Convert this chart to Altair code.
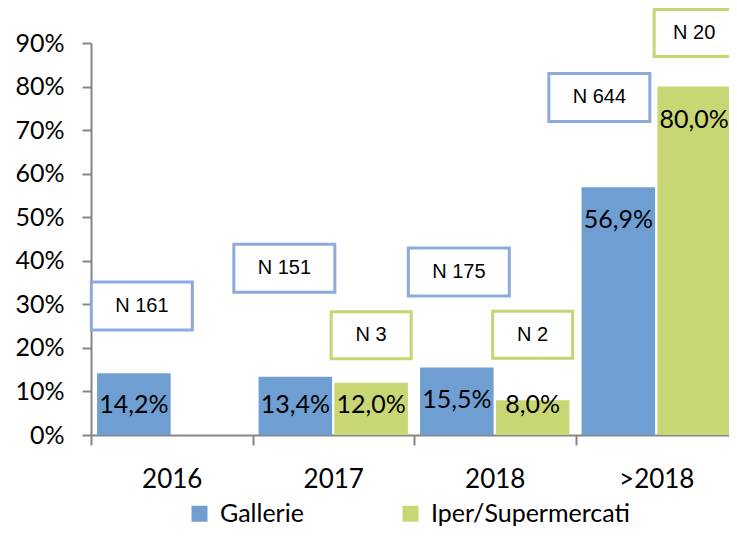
import altair as alt
import pandas as pd

# ---- data ----
categories = ["2016", "2017", "2018", ">2018"]
series_names = ["Gallerie", "Iper/Supermercati"]
gallerie_pct = [14.2, 13.4, 15.5, 56.9]
iper_pct = [None, 12.0, 8.0, 80.0]
gallerie_n = [161, 151, 175, 644]
iper_n = [None, 3, 2, 20]
# vertical level (in % units) of the centre of each "N" callout box
gallerie_box_level = [29.6, 38.3, 37.4, 77.5]
iper_box_level = [None, 22.9, 23.0, 92.3]
y_ticks = [0, 10, 20, 30, 40, 50, 60, 70, 80, 90]

rows = []
for i, c in enumerate(categories):
    for s, vals, ns, lv in [
        (series_names[0], gallerie_pct, gallerie_n, gallerie_box_level),
        (series_names[1], iper_pct, iper_n, iper_box_level),
    ]:
        if vals[i] is None:
            continue
        rows.append({"cat": c, "series": s, "value": vals[i], "n": ns[i], "level": lv[i]})
df = pd.DataFrame(rows)

BLUE = "#6F9FD2"
GREEN = "#C8D774"
BLUE_EDGE = "#8EAADC"
GREEN_EDGE = "#C4D671"
AXIS_GREY = "#868686"

# horizontal nudge (px) of the Gallerie callout boxes, as drawn in the original
NUDGE = "({'2016': 8, '2017': -11, '2018': 2, '>2018': -19})[datum.cat]"
# offset from the category centre to the Gallerie bar centre, from the scales
BAR_CENTRE = "(scale('xOffset', 'Gallerie') + bandwidth('xOffset') / 2 - bandwidth('x') / 2)"
BOX_PATH = "M-1,-0.475H1V0.475H-1Z"

x_enc = alt.X(
    "cat:N",
    sort=categories,
    scale=alt.Scale(paddingInner=0, paddingOuter=0, range=[0, 646]),
    axis=alt.Axis(
        title=None,
        labelAngle=0,
        tickBand="extent",
        tickSize=10,
        tickWidth=2,
        tickColor=AXIS_GREY,
        domainColor=AXIS_GREY,
        domainWidth=2,
        labelFont="Lato",
        labelFontSize=26,
        labelColor="#000000",
        labelPadding=21,
    ),
)
xoff_enc = alt.XOffset(
    "series:N",
    sort=series_names,
    scale=alt.Scale(domain=series_names, paddingInner=0.03, paddingOuter=0.08),
)
y_scale = alt.Scale(domain=[0, 90], nice=False)

base = alt.Chart(df)

bars = base.mark_bar().encode(
    x=x_enc,
    xOffset=xoff_enc,
    y=alt.Y(
        "value:Q",
        scale=y_scale,
        axis=alt.Axis(
            title=None,
            values=y_ticks,
            labelExpr="datum.value + '%'",
            tickSize=9,
            tickWidth=2,
            tickColor=AXIS_GREY,
            domainColor=AXIS_GREY,
            domainWidth=2,
            grid=False,
            labelFont="Lato",
            labelFontSize=25,
            labelColor="#000000",
            labelPadding=18,
        ),
    ),
    color=alt.Color(
        "series:N",
        sort=series_names,
        scale=alt.Scale(domain=series_names, range=[BLUE, GREEN]),
        legend=alt.Legend(
            title=None,
            orient="none",
            legendX=96,
            legendY=458,
            direction="horizontal",
            symbolType="square",
            symbolSize=256,
            symbolStrokeWidth=0,
            labelFont="Lato",
            labelFontSize=25,
            labelColor="#000000",
            labelOffset=8,
            labelLimit=400,
            columnPadding=94,
            padding=0,
        ),
    ),
)

labels = base.transform_calculate(
    lab="replace(format(datum.value, '.1f'), '.', ',') + '%'",
    anchor="max(datum.value, 14.5)",
).mark_text(font="Lato", fontSize=25, baseline="middle", dy=33, color="#000000").encode(
    x=x_enc,
    xOffset=xoff_enc,
    y=alt.Y("anchor:Q", scale=y_scale),
    text="lab:N",
)

box_blue = base.transform_filter(alt.datum.series == series_names[0]).mark_point(
    shape=BOX_PATH, size=101 * 101, filled=True, fill="white", opacity=1,
    stroke=BLUE_EDGE, strokeWidth=3, xOffset=alt.expr(BAR_CENTRE + " + " + NUDGE)
).encode(
    x=x_enc,
    y=alt.Y("level:Q", scale=y_scale),
)
box_green = base.transform_filter(alt.datum.series == series_names[1]).transform_calculate(
    lo="datum.level - 5.4", hi="datum.level + 5.4"
).mark_rect(
    width=80, fill="white", stroke=GREEN_EDGE, strokeWidth=3
).encode(
    x=x_enc,
    xOffset=xoff_enc,
    y=alt.Y("lo:Q", scale=y_scale),
    y2="hi:Q",
)
text_blue = base.transform_filter(alt.datum.series == series_names[0]).transform_calculate(
    nlab="'N ' + datum.n"
).mark_text(
    font="Liberation Sans", fontSize=20, baseline="middle", color="#000000", dx=alt.expr(NUDGE)
).encode(
    x=x_enc,
    xOffset=xoff_enc,
    y=alt.Y("level:Q", scale=y_scale),
    text="nlab:N",
)
text_green = base.transform_filter(alt.datum.series == series_names[1]).transform_calculate(
    nlab="'N ' + datum.n"
).mark_text(
    font="Liberation Sans", fontSize=20, baseline="middle", color="#000000"
).encode(
    x=x_enc,
    xOffset=xoff_enc,
    y=alt.Y("level:Q", scale=y_scale),
    text="nlab:N",
)

chart = (
    alt.layer(bars, box_blue, box_green, text_blue, text_green, labels)
    .properties(
        width=638,
        height=392,
        autosize=alt.AutoSizeParams(type="none"),
        padding={"left": 83, "top": 35, "right": 0, "bottom": 94},
    )
    .configure_view(stroke=None)
)

chart.save("out.html", embed_options={"renderer": "svg", "actions": False})
